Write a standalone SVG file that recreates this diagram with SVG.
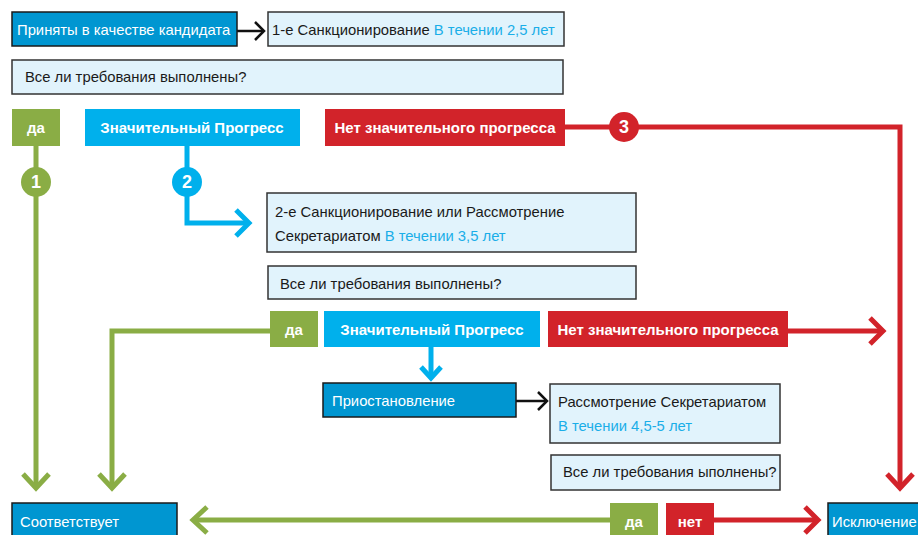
<svg xmlns="http://www.w3.org/2000/svg" width="918" height="535" viewBox="0 0 918 535">
<defs>
<style>
.t{font-family:"Liberation Sans",Arial,sans-serif;font-size:14.8px;fill:#1a1a1a}
.w{fill:#ffffff}
.b{font-weight:bold;fill:#ffffff;text-anchor:middle;font-size:15px}
.hl{fill:#1aaee8}
.dark{fill:#0096d1;stroke:#1a1a1a;stroke-width:1.5}
.light{fill:#e1f3fc;stroke:#333333;stroke-width:1.5}
.green{fill:#8aad45}
.cyan{fill:#00b0ec}
.red{fill:#d2232a}
.gl{fill:none;stroke:#8aad45;stroke-width:5}
.cl{fill:none;stroke:#00b0ec;stroke-width:5}
.rl{fill:none;stroke:#d2232a;stroke-width:5}
.kl{fill:none;stroke:#111111;stroke-width:2.5}
.num{font-family:"Liberation Sans",Arial,sans-serif;font-size:18px;font-weight:bold;fill:#fff;text-anchor:middle}
</style>
</defs>
<g id="connectors">
<path class="kl" d="M237 31 H264"/>
<path class="kl" d="M255 22 L264 31 L255 40"/>
<path class="kl" d="M516 401 H547"/>
<path class="kl" d="M538 392 L547 401 L538 410"/>
<path class="gl" d="M36 146 V488"/>
<path class="gl" d="M23 474 L36 488 L49 474"/>
<path class="gl" d="M270 331 H112 V488"/>
<path class="gl" d="M99 474 L112 488 L125 474"/>
<path class="gl" d="M610 520 H193"/>
<path class="gl" d="M207 507 L193 520 L207 533"/>
<path class="cl" d="M187 146 V223 H249"/>
<path class="cl" d="M236 210 L249 223 L236 236"/>
<path class="cl" d="M431 347 V378"/>
<path class="cl" d="M421 367 L431 378 L441 367"/>
<path class="rl" d="M565 127 H900 V488"/>
<path class="rl" d="M887 474 L900 488 L913 474"/>
<path class="rl" d="M788 331 H883"/>
<path class="rl" d="M870 318 L883 331 L870 344"/>
<path class="rl" d="M714 520 H818"/>
<path class="rl" d="M805 507 L818 520 L805 533"/>
</g>
<g id="n-candidate"><rect class="dark" x="12" y="12" width="225" height="34"/><text class="t w" x="17" y="35">Приняты в качестве кандидата</text></g>
<g id="n-sanction1"><rect class="light" x="268" y="12" width="296" height="34"/><text class="t" x="272" y="35">1-е Санкционирование <tspan class="hl">В течении 2,5 лет</tspan></text></g>
<g id="n-q1"><rect class="light" x="12" y="60" width="551" height="34"/><text class="t" x="25" y="82">Все ли требования выполнены?</text></g>
<g id="n-yes1"><rect class="green" x="12" y="109" width="48" height="37"/><text class="t b" x="36" y="133">да</text></g>
<g id="n-prog1"><rect class="cyan" x="85" y="109" width="215" height="37"/><text class="t b" x="192" y="133">Значительный Прогресс</text></g>
<g id="n-noprog1"><rect class="red" x="325" y="109" width="240" height="37"/><text class="t b" x="445" y="133">Нет значительного прогресса</text></g>
<g id="c1"><circle class="green" cx="36" cy="182" r="15"/><text class="num" x="36" y="188">1</text></g>
<g id="c2"><circle class="cyan" cx="187" cy="182" r="15"/><text class="num" x="187" y="188">2</text></g>
<g id="c3"><circle class="red" cx="624" cy="127" r="15"/><text class="num" x="624" y="133">3</text></g>
<g id="n-sanction2"><rect class="light" x="267" y="193" width="369" height="59"/><text class="t" x="275" y="217">2-е Санкционирование или Рассмотрение</text><text class="t" x="275" y="241">Секретариатом <tspan class="hl">В течении 3,5 лет</tspan></text></g>
<g id="n-q2"><rect class="light" x="268" y="266" width="368" height="33"/><text class="t" x="280" y="289">Все ли требования выполнены?</text></g>
<g id="n-yes2"><rect class="green" x="270" y="311" width="48" height="36"/><text class="t b" x="294" y="335">да</text></g>
<g id="n-prog2"><rect class="cyan" x="324" y="311" width="216" height="36"/><text class="t b" x="432" y="335">Значительный Прогресс</text></g>
<g id="n-noprog2"><rect class="red" x="548" y="311" width="240" height="36"/><text class="t b" x="668" y="335">Нет значительного прогресса</text></g>
<g id="n-suspend"><rect class="dark" x="323" y="383" width="193" height="34"/><text class="t w" x="332" y="406">Приостановление</text></g>
<g id="n-secretariat"><rect class="light" x="550" y="384" width="230" height="59"/><text class="t" x="558" y="407">Рассмотрение Секретариатом</text><text class="t hl" x="558" y="431">В течении 4,5-5 лет</text></g>
<g id="n-q3"><rect class="light" x="551" y="455" width="229" height="35"/><text class="t" x="563" y="477">Все ли требования ыполнены?</text></g>
<g id="n-comply"><rect class="dark" x="12" y="503" width="165" height="40"/><text class="t w" x="20" y="527">Соответствует</text></g>
<g id="n-yes3"><rect class="green" x="610" y="503" width="48" height="40"/><text class="t b" x="634" y="527">да</text></g>
<g id="n-no3"><rect class="red" x="666" y="503" width="48" height="40"/><text class="t b" x="690" y="527">нет</text></g>
<g id="n-exclude"><rect class="dark" x="828" y="503" width="100" height="40"/><text class="t w" x="832" y="527">Исключение</text></g>
</svg>
